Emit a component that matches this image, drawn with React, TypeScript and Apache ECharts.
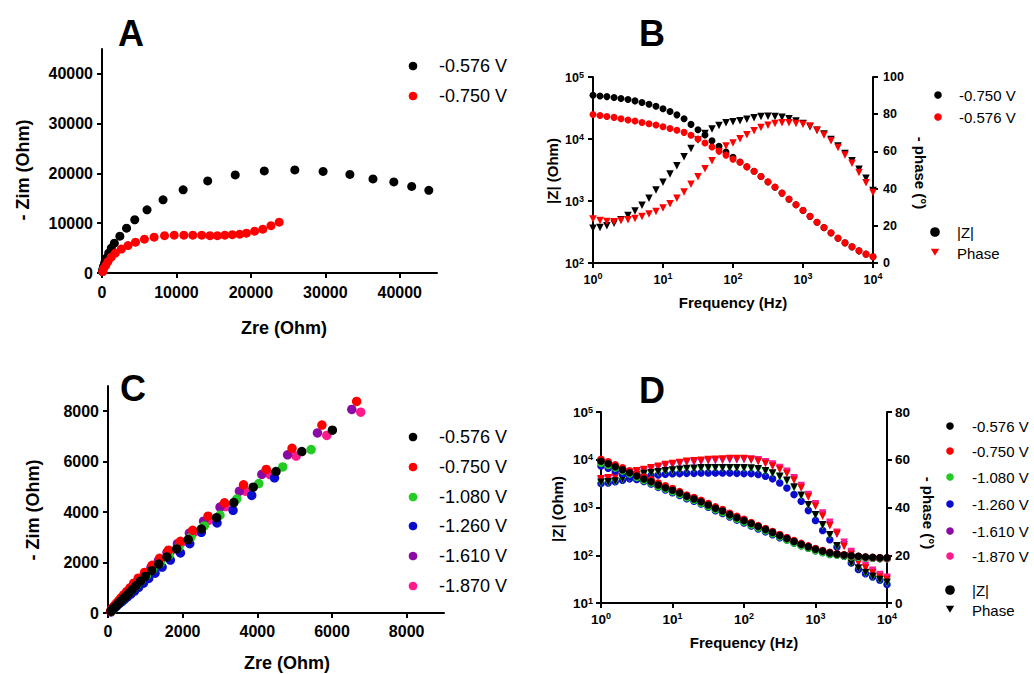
import React, { useEffect, useRef } from "react";
import * as echarts from "echarts";

const FF = "Liberation Sans, Arial, sans-serif";

// Frequencies (Hz) for panels B and D
const freq = [1, 1.26, 1.58, 2, 2.51, 3.16, 3.98, 5.01, 6.31, 7.94, 10, 12.6, 15.8, 20, 25.1, 31.6, 39.8, 50.1, 63.1, 79.4, 100, 126, 158, 200, 251, 316, 398, 501, 631, 794, 1000, 1259, 1585, 1995, 2512, 3162, 3981, 5012, 6310, 7943, 10000];

// ---- Panel A (Nyquist) ----
const aZre576 = [50, 100, 200, 350, 600, 900, 1250, 1660, 2400, 3300, 4400, 6050, 8200, 10900, 14200, 17900, 21800, 25900, 29700, 33300, 36400, 39200, 41600, 43900];
const aZim576 = [300, 700, 1300, 2000, 3000, 4000, 5000, 6000, 7400, 9000, 10700, 12700, 14700, 16700, 18500, 19700, 20500, 20700, 20400, 19800, 18900, 18300, 17400, 16600];
const aZre750 = [100, 200, 500, 800, 1250, 1800, 2600, 3500, 4500, 5700, 7000, 8400, 9700, 11000, 12200, 13400, 14500, 15500, 16500, 17500, 18500, 19400, 20500, 21600, 22700, 23800];
const aZim750 = [300, 800, 1500, 2300, 3200, 4000, 4800, 5500, 6200, 6800, 7200, 7500, 7600, 7600, 7600, 7600, 7500, 7500, 7600, 7700, 7800, 8000, 8400, 8800, 9500, 10200];

// ---- Panel B (Bode) ----
const bZ750 = [50800, 49500, 48300, 46600, 44900, 43300, 41200, 38700, 36400, 33800, 30700, 27800, 24500, 21200, 17200, 14100, 11600, 9380, 7620, 6170, 5070, 4270, 3560, 3010, 2480, 2030, 1670, 1340, 1070, 869, 705, 565, 453, 372, 305, 251, 211, 182, 157, 139, 126];
const bZ576 = [24900, 24000, 23100, 22300, 21200, 20200, 19500, 18500, 17600, 16800, 15800, 14800, 13800, 12800, 11500, 10000, 8610, 7410, 6380, 5500, 4730, 4220, 3550, 3020, 2490, 2040, 1680, 1340, 1080, 873, 708, 568, 455, 373, 307, 252, 212, 183, 158, 139, 126];
const bPh750 = [18.7, 19.1, 20.0, 21.4, 23.2, 25.5, 28.0, 31.1, 34.8, 39.3, 43.4, 47.9, 52.3, 57.1, 61.6, 66.1, 69.6, 72.0, 73.9, 75.4, 75.9, 76.5, 77.3, 78.1, 78.7, 78.9, 78.8, 78.3, 77.5, 76.3, 75.0, 73.2, 71.4, 69.3, 66.4, 62.9, 58.9, 55.0, 50.4, 45.5, 39.0];
const bPh576 = [23.6, 22.8, 22.3, 22.2, 22.9, 23.2, 23.9, 25.0, 26.3, 27.7, 29.6, 31.8, 34.8, 38.2, 42.3, 46.4, 50.7, 55.0, 59.8, 62.9, 64.5, 66.8, 69.0, 71.1, 72.9, 74.1, 75.0, 75.4, 75.4, 75.0, 74.6, 73.6, 71.4, 68.8, 65.7, 62.1, 58.0, 53.6, 48.6, 43.2, 37.9];

// ---- Panel C (Nyquist, six potentials) ----
const cZre576 = [80, 110, 150, 210, 270, 330, 400, 480, 560, 650, 750, 870, 1000, 1170, 1360, 1580, 1840, 2150, 2500, 2910, 3370, 3890, 4500, 5190, 6010];
const cZim576 = [70, 120, 190, 260, 360, 450, 560, 660, 790, 930, 1080, 1260, 1450, 1680, 1940, 2220, 2540, 2910, 3330, 3780, 4380, 4990, 5610, 6400, 7250];
const cZre750 = [70, 90, 130, 180, 230, 290, 350, 420, 500, 590, 690, 810, 980, 1180, 1380, 1620, 1940, 2270, 2680, 3120, 3630, 4240, 4930, 5730, 6660];
const cZim750 = [60, 130, 210, 300, 390, 490, 600, 720, 850, 1000, 1180, 1380, 1610, 1890, 2170, 2490, 2840, 3280, 3840, 4370, 5080, 5690, 6530, 7450, 8390];
const cZre1080 = [90, 120, 160, 210, 270, 330, 400, 480, 560, 650, 760, 880, 1030, 1200, 1400, 1630, 1900, 2220, 2580, 3000, 3450, 4040, 4680, 5440];
const cZim1080 = [70, 130, 200, 280, 370, 460, 560, 670, 790, 930, 1090, 1270, 1480, 1720, 1980, 2280, 2620, 3000, 3450, 3880, 4520, 5130, 5790, 6480];
const cZre1260 = [80, 100, 140, 190, 240, 300, 370, 440, 520, 610, 710, 820, 950, 1090, 1260, 1450, 1670, 1940, 2190, 2500, 2920, 3350, 3850, 4460];
const cZim1260 = [40, 90, 150, 220, 290, 370, 450, 540, 640, 750, 870, 1020, 1180, 1370, 1580, 1820, 2100, 2380, 2750, 3200, 3570, 4070, 4660, 5360];
const cZre1610 = [90, 130, 180, 240, 300, 360, 430, 510, 600, 710, 830, 980, 1150, 1350, 1580, 1860, 2180, 2560, 3000, 3520, 4120, 4810, 5610, 6530];
const cZim1610 = [110, 190, 280, 370, 470, 580, 700, 830, 980, 1150, 1340, 1560, 1800, 2080, 2400, 2750, 3170, 3640, 4200, 4830, 5500, 6270, 7140, 8070];
const cZre1870 = [100, 140, 190, 250, 310, 380, 450, 540, 640, 750, 880, 1030, 1210, 1420, 1670, 1960, 2300, 2700, 3150, 3680, 4340, 5040, 5860, 6770];
const cZim1870 = [120, 200, 290, 380, 480, 590, 710, 840, 990, 1160, 1350, 1570, 1820, 2100, 2420, 2780, 3200, 3670, 4220, 4830, 5490, 6220, 7040, 7960];

// ---- Panel D (Bode, six potentials) ----
const dZ576 = [9270, 8280, 7160, 6190, 5360, 4570, 3950, 3480, 2960, 2600, 2290, 2010, 1710, 1510, 1320, 1130, 960, 845, 708, 610, 531, 462, 398, 347, 301, 260, 224, 194, 169, 150, 133, 122, 112, 106, 101, 98, 95, 92, 91, 89, 89];
const dZ750 = [10200, 9070, 7850, 6780, 5870, 5010, 4330, 3810, 3240, 2850, 2510, 2150, 1830, 1620, 1420, 1210, 1030, 906, 759, 654, 569, 484, 417, 363, 315, 272, 235, 203, 177, 157, 139, 126, 115, 108, 102, 98, 95, 92, 90, 89, 88];
const dZ1080 = [8400, 7550, 6680, 5780, 5000, 4260, 3690, 3250, 2760, 2430, 2140, 1880, 1600, 1410, 1230, 1050, 896, 788, 661, 569, 495, 431, 371, 324, 281, 243, 209, 181, 158, 140, 124, 114, 105, 100, 96, 93, 91, 88, 87, 85, 85];
const dZ1260 = [7400, 6650, 5800, 5100, 4500, 3880, 3520, 3100, 2640, 2320, 2040, 1790, 1520, 1350, 1180, 1010, 855, 753, 631, 544, 473, 412, 355, 309, 268, 232, 209, 181, 158, 140, 124, 114, 104, 101, 96, 94, 91, 88, 87, 85, 85];
const dZ1610 = [10000, 8890, 7690, 6640, 5750, 4910, 4240, 3730, 3180, 2790, 2460, 2110, 1790, 1590, 1390, 1190, 1010, 888, 744, 641, 558, 474, 409, 356, 309, 267, 230, 199, 173, 154, 136, 124, 113, 106, 100, 96, 93, 90, 88, 87, 86];
const dZ1870 = [9080, 8110, 7020, 6070, 5250, 4480, 3870, 3410, 2900, 2550, 2240, 1970, 1680, 1480, 1290, 1110, 941, 828, 694, 598, 520, 453, 390, 340, 295, 255, 220, 190, 164, 145, 128, 117, 108, 102, 97, 94, 91, 88, 87, 85, 85];
const dPh576 = [50.6, 50.8, 51.1, 52.0, 52.8, 53.6, 54.2, 54.6, 55.0, 55.4, 55.7, 56.0, 56.3, 56.4, 56.6, 56.6, 56.7, 56.7, 56.7, 56.7, 56.6, 56.5, 56.2, 55.4, 54.5, 53.1, 51.4, 48.6, 45.1, 41.2, 37.0, 32.8, 28.6, 24.0, 19.8, 16.8, 14.7, 12.8, 11.2, 9.8, 8.7];
const dPh750 = [52.0, 52.5, 53.1, 54.0, 54.8, 55.4, 55.9, 56.6, 57.3, 58.0, 58.4, 58.9, 59.4, 59.6, 59.8, 60.1, 60.2, 60.3, 60.5, 60.5, 60.5, 60.1, 59.4, 58.4, 57.3, 55.9, 54.2, 51.4, 48.2, 44.4, 40.5, 36.3, 32.4, 29.1, 23.7, 20.3, 16.8, 14.7, 12.6, 10.8, 9.8];
const dPh1080 = [50.2, 50.4, 50.7, 51.6, 52.4, 53.2, 53.8, 54.2, 54.6, 55.0, 55.3, 55.6, 55.9, 56.0, 56.2, 56.2, 56.3, 56.3, 56.3, 56.3, 56.2, 56.1, 55.8, 55.0, 54.1, 52.7, 51.0, 48.2, 44.7, 40.8, 36.6, 32.4, 28.2, 23.6, 19.4, 16.4, 14.3, 12.4, 10.8, 9.4, 8.3];
const dPh1260 = [50.0, 50.3, 50.8, 51.4, 52.0, 52.7, 53.1, 53.4, 53.6, 53.9, 54.1, 54.2, 54.3, 54.3, 54.5, 54.5, 54.5, 54.5, 54.5, 54.3, 54.2, 54.2, 53.8, 53.1, 52.0, 50.3, 48.2, 45.4, 42.6, 38.7, 34.6, 30.4, 26.5, 23.5, 19.6, 16.8, 14.0, 12.3, 10.9, 9.5, 7.7];
const dPh1610 = [51.5, 52.0, 52.6, 53.4, 54.2, 54.8, 55.3, 56.0, 56.7, 57.4, 57.8, 58.3, 58.8, 59.0, 59.2, 59.5, 59.6, 59.7, 59.9, 59.9, 60.0, 59.8, 59.4, 58.6, 57.6, 56.2, 54.5, 51.8, 48.5, 44.8, 41.0, 37.0, 33.0, 28.8, 24.4, 20.8, 17.5, 15.0, 13.0, 11.3, 10.2];
const dPh1870 = [51.8, 52.3, 52.9, 53.8, 54.6, 55.2, 55.7, 56.4, 57.1, 57.8, 58.2, 58.7, 59.2, 59.4, 59.6, 59.9, 60.0, 60.1, 60.3, 60.3, 60.4, 60.3, 60.0, 59.2, 58.2, 56.8, 55.2, 52.5, 49.2, 45.4, 41.6, 37.7, 33.8, 29.6, 25.4, 21.6, 18.4, 15.8, 13.7, 11.9, 10.8];

// tick label lists
const aTicks = [0, 10000, 20000, 30000, 40000];
const cTicks = [0, 2000, 4000, 6000, 8000];

const BLACK = "#000000";
const RED = "#ff0000";
const GREEN = "#22cc22";
const BLUE = "#0b0bd0";
const PURPLE = "#8a0aa6";
const PINK = "#ff1a8c";

const zip = (xs: number[], ys: number[]) => xs.map((x, i) => [x, ys[i]]);

const axisBase = (fontSize: number, margin: number) => ({
  axisLine: { show: true, onZero: false, lineStyle: { color: "#000", width: 2 } },
  axisTick: { show: true, length: 5, lineStyle: { color: "#000", width: 2 } },
  splitLine: { show: false },
  axisLabel: { color: "#000", fontFamily: FF, fontWeight: "bold", fontSize, margin },
});

const valueAxis = (grid: number, max: number, ticks: number[], step: number, fontSize: number, margin: number) => {
  const b: any = axisBase(fontSize, margin);
  return {
    type: "value",
    gridIndex: grid,
    min: 0,
    max,
    interval: step,
    ...b,
    axisTick: { ...b.axisTick, customValues: ticks },
    axisLabel: {
      ...b.axisLabel,
      customValues: ticks,
      formatter: (v: number) => (v % step === 0 ? String(v) : ""),
    },
  };
};

const logAxis = (grid: number, min: number, max: number, fontSize: number, margin: number, isX: boolean) => {
  const b: any = axisBase(fontSize, margin);
  return {
    type: "log",
    logBase: 10,
    gridIndex: grid,
    min,
    max,
    ...b,
    axisLabel: {
      ...b.axisLabel,
      formatter: (v: number) => `{b|10}{s|${Math.round(Math.log10(v))}}`,
      rich: {
        b: { fontSize, fontWeight: "bold", fontFamily: FF, color: "#000", verticalAlign: "bottom", lineHeight: isX ? 15 : 14 },
        s: { fontSize: 9, fontFamily: FF, color: "#000", verticalAlign: "top", lineHeight: 9 },
      },
    },
  };
};

const rightAxis = (grid: number, max: number, fontSize: number, margin: number) => {
  const b: any = axisBase(fontSize, margin);
  return { type: "value", gridIndex: grid, position: "right", min: 0, max, interval: 20, ...b };
};

const sc = (x: number, y: number, data: number[][], color: string, size: number, tri = false) => ({
  type: "scatter",
  xAxisIndex: x,
  yAxisIndex: y,
  data,
  symbol: tri ? "triangle" : "circle",
  symbolRotate: tri ? 180 : 0,
  symbolSize: size,
  clip: false,
  itemStyle: { color, opacity: 1 },
  emphasis: { disabled: true },
});

const txt = (x: number, y: number, text: string, fontSize: number, bold: boolean, rotation = 0, align = "center") => ({
  type: "text",
  x,
  y,
  rotation,
  silent: true,
  style: {
    text,
    fill: "#000",
    fontFamily: FF,
    fontSize,
    fontWeight: bold ? "bold" : "normal",
    align,
    verticalAlign: "middle",
    textAlign: align,
    textVerticalAlign: "middle",
  },
});

const dot = (cx: number, cy: number, r: number, fill: string) => ({
  type: "circle",
  silent: true,
  shape: { cx, cy, r },
  style: { fill },
});

const triDown = (cx: number, cy: number, w: number, fill: string) => ({
  type: "polygon",
  silent: true,
  shape: { points: [[cx - w, cy - w * 0.8], [cx + w, cy - w * 0.8], [cx, cy + w * 0.9]] },
  style: { fill },
});

export default function App() {
  const ref = useRef<HTMLDivElement>(null);
  useEffect(() => {
    if (!ref.current) return;
    const chart = echarts.init(ref.current, undefined, { renderer: "svg" });
    const fB = (ys: number[]) => zip(freq, ys);

    const legendC = ["-0.576 V", "-0.750 V", "-1.080 V", "-1.260 V", "-1.610 V", "-1.870 V"];
    const colsC = [BLACK, RED, GREEN, BLUE, PURPLE, PINK];
    const cY = [437, 467, 497, 526, 556, 586];
    const dY = [426, 451, 477, 504, 531, 556];

    const graphics: any[] = [
      txt(131, 33, "A", 36, true),
      txt(652, 33, "B", 36, true),
      txt(133, 388, "C", 36, true),
      txt(652, 390, "D", 36, true),
      // axis titles
      txt(284, 328, "Zre (Ohm)", 18, true),
      txt(23, 170, "- Zim (Ohm)", 18, true, Math.PI / 2),
      txt(733, 302, "Frequency (Hz)", 15, true),
      txt(552, 171, "|Z| (Ohm)", 15, true, Math.PI / 2),
      txt(920, 173, "- phase (°)", 15, true, -Math.PI / 2),
      txt(287, 663, "Zre (Ohm)", 18, true),
      txt(33, 510, "- Zim (Ohm)", 18, true, Math.PI / 2),
      txt(744, 642, "Frequency (Hz)", 15, true),
      txt(557, 509, "|Z| (Ohm)", 15, true, Math.PI / 2),
      txt(928, 513, "- phase (°)", 15, true, -Math.PI / 2),
      // legend A
      dot(413, 66, 4.3, BLACK),
      txt(439, 66, "-0.576 V", 18, false, 0, "left"),
      dot(413, 96, 4.3, RED),
      txt(439, 96, "-0.750 V", 18, false, 0, "left"),
      // legend B
      dot(938, 95, 3.8, BLACK),
      txt(959, 95, "-0.750 V", 15, false, 0, "left"),
      dot(938, 117, 3.8, RED),
      txt(959, 117, "-0.576 V", 15, false, 0, "left"),
      dot(935, 232, 4.8, BLACK),
      txt(957, 232, "|Z|", 15, false, 0, "left"),
      triDown(935, 252, 4.2, RED),
      txt(957, 253, "Phase", 15, false, 0, "left"),
      // legend D extras
      dot(950, 590, 4.8, BLACK),
      txt(972, 590, "|Z|", 15, false, 0, "left"),
      triDown(950, 609, 4.2, BLACK),
      txt(972, 610, "Phase", 15, false, 0, "left"),
    ];
    legendC.forEach((t, i) => {
      graphics.push(dot(413, cY[i], 4.3, colsC[i]));
      graphics.push(txt(439, cY[i], t, 18, false, 0, "left"));
      graphics.push(dot(950, dY[i], 3.8, colsC[i]));
      graphics.push(txt(972, dY[i], t, 15, false, 0, "left"));
    });

    const option: any = {
      animation: false,
      backgroundColor: "#ffffff",
      grid: [
        { left: 102, top: 49, width: 335, height: 224, containLabel: false, outerBoundsMode: "none" },
        { left: 593, top: 77, width: 280, height: 186, containLabel: false, outerBoundsMode: "none" },
        { left: 108, top: 386, width: 336, height: 227, containLabel: false, outerBoundsMode: "none" },
        { left: 601, top: 412, width: 286, height: 191, containLabel: false, outerBoundsMode: "none" },
      ],
      xAxis: [
        valueAxis(0, 45000, aTicks, 10000, 16, 11),
        logAxis(1, 1, 10000, 12.5, 8, true),
        valueAxis(2, 9000, cTicks, 2000, 16, 10),
        logAxis(3, 1, 10000, 13.5, 8, true),
      ],
      yAxis: [
        valueAxis(0, 45000, aTicks, 10000, 16, 9),
        logAxis(1, 100, 100000, 12.5, 9, false),
        rightAxis(1, 100, 12.5, 10),
        valueAxis(2, 9000, cTicks, 2000, 16, 9),
        logAxis(3, 10, 100000, 13.5, 8, false),
        rightAxis(3, 80, 13.5, 8),
      ],
      series: [
        // A
        sc(0, 0, zip(aZre576, aZim576), BLACK, 9),
        sc(0, 0, zip(aZre750, aZim750), RED, 9),
        // B
        sc(1, 1, fB(bZ750), BLACK, 7),
        sc(1, 2, fB(bPh750), BLACK, 7.5, true),
        sc(1, 1, fB(bZ576), RED, 7),
        sc(1, 2, fB(bPh576), RED, 7.5, true),
        // C
        sc(2, 3, zip(cZre1870, cZim1870), PINK, 9.5),
        sc(2, 3, zip(cZre1610, cZim1610), PURPLE, 9.5),
        sc(2, 3, zip(cZre1260, cZim1260), BLUE, 9.5),
        sc(2, 3, zip(cZre1080, cZim1080), GREEN, 9.5),
        sc(2, 3, zip(cZre750, cZim750), RED, 9.5),
        sc(2, 3, zip(cZre576, cZim576), BLACK, 9.5),
        // D phase
        sc(3, 5, fB(dPh1260), BLUE, 7.5),
        sc(3, 5, fB(dPh1080), GREEN, 7.5, true),
        sc(3, 5, fB(dPh1610), PURPLE, 7.5, true),
        sc(3, 5, fB(dPh1870), PINK, 7.5, true),
        sc(3, 5, fB(dPh750), RED, 7.5, true),
        sc(3, 5, fB(dPh576), BLACK, 7.5, true),
        // D |Z|
        sc(3, 4, fB(dZ1870), PINK, 7.5),
        sc(3, 4, fB(dZ1610), PURPLE, 7.5),
        sc(3, 4, fB(dZ1260), BLUE, 7.5),
        sc(3, 4, fB(dZ1080), GREEN, 7.5),
        sc(3, 4, fB(dZ750), RED, 7.5),
        sc(3, 4, fB(dZ576), BLACK, 7.5),
      ],
      graphic: { elements: graphics },
    };
    chart.setOption(option);
    return () => chart.dispose();
  }, []);
  return <div ref={ref} style={{ position: "fixed", left: 0, top: 0, width: 1034, height: 674 }} />;
}
